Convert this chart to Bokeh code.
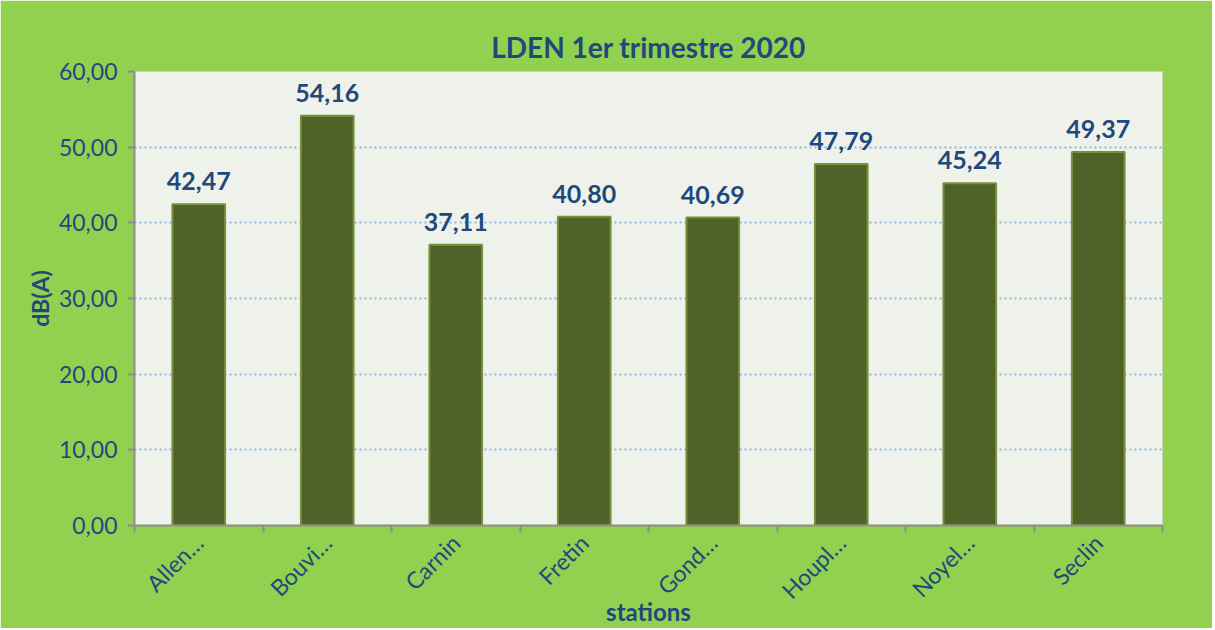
import math
from bokeh.plotting import figure
from bokeh.models import ColumnDataSource, FixedTicker, Range1d
from bokeh.core.properties import value
from bokeh.embed import file_html
from bokeh.resources import INLINE

# ---- data ----
stations = ["Allen…", "Bouvi…", "Carnin", "Fretin", "Gond…", "Houpl…", "Noyel…", "Seclin"]
lden = [42.47, 54.16, 37.11, 40.80, 40.69, 47.79, 45.24, 49.37]
y_ticks = [0, 10, 20, 30, 40, 50, 60]
title_text = "LDEN 1er trimestre 2020"
x_label = "stations"
y_label = "dB(A)"

FONT = "Lato"
BLUE = "#1F497D"
GREEN_BG = "#92D050"

def fr(v):
    return f"{v:.2f}".replace(".", ",")

xpos = [i + 0.5 for i in range(len(stations))]
src = ColumnDataSource(dict(x=xpos, y=lden, lab=[fr(v) for v in lden]))

W, H = 1212, 628
p = figure(width=W, height=H, output_backend="svg", toolbar_location=None,
           x_range=Range1d(0, len(stations)), y_range=Range1d(0, 60),
           title=title_text,
           min_border_left=134, min_border_right=W - 1162,
           min_border_top=71, min_border_bottom=H - 526)

p.background_fill_color = "#EFF2EA"
p.border_fill_color = GREEN_BG
p.outline_line_color = "#C9D5B5"
p.outline_line_width = 1

p.title.align = "center"
p.title.text_font = FONT
p.title.text_font_size = "28px"
p.title.text_font_style = "bold"
p.title.text_color = BLUE
p.title.standoff = 16

p.vbar(x="x", top="y", width=0.41, source=src, fill_color="#4F6228",
       line_color="#76923C", line_width=2)

p.text(x="x", y="y", text="lab", source=src, text_font=value(FONT),
       text_font_size="25px", text_font_style="bold", text_color=BLUE,
       text_align="center", text_baseline="bottom", y_offset=-14)

# grid
p.xgrid.visible = False
p.ygrid.ticker = FixedTicker(ticks=y_ticks[1:])
p.ygrid.grid_line_color = "#8DB4E2"
p.ygrid.grid_line_dash = "2 3"
p.ygrid.grid_line_width = 2

# y axis
ya = p.yaxis[0]
ya.ticker = FixedTicker(ticks=y_ticks)
ya.major_label_overrides = {t: fr(t) for t in y_ticks}
ya.major_label_text_font = FONT
ya.major_label_text_font_size = "23px"
ya.major_label_text_color = BLUE
ya.axis_line_color = "#8C8C8C"
ya.axis_line_width = 2
ya.major_tick_line_color = "#8C8C8C"
ya.major_tick_line_width = 2
ya.major_tick_in = 0
ya.major_tick_out = 7
ya.minor_tick_line_color = None
ya.major_label_standoff = 10
ya.axis_label = y_label
ya.axis_label_text_font = FONT
ya.axis_label_text_font_size = "23px"
ya.axis_label_text_font_style = "bold"
ya.axis_label_text_color = BLUE
ya.axis_label_standoff = 2

# x axis
xa = p.xaxis[0]
xa.ticker = FixedTicker(ticks=xpos, minor_ticks=list(range(len(stations) + 1)))
xa.major_label_overrides = {x: s for x, s in zip(xpos, stations)}
xa.major_label_orientation = math.pi / 4
xa.major_label_text_font = FONT
xa.major_label_text_font_size = "23px"
xa.major_label_text_color = BLUE
xa.axis_line_color = "#8C8C8C"
xa.axis_line_width = 2
xa.major_tick_line_color = None
xa.major_tick_out = 7
xa.major_tick_in = 0
xa.minor_tick_line_color = "#8C8C8C"
xa.minor_tick_line_width = 2
xa.minor_tick_in = 0
xa.minor_tick_out = 7
xa.major_label_standoff = 6
xa.axis_label = x_label
xa.axis_label_text_font = FONT
xa.axis_label_text_font_size = "24px"
xa.axis_label_text_font_style = "bold"
xa.axis_label_text_color = BLUE
xa.axis_label_standoff = -20

open("out.html", "w").write(file_html(p, INLINE))
